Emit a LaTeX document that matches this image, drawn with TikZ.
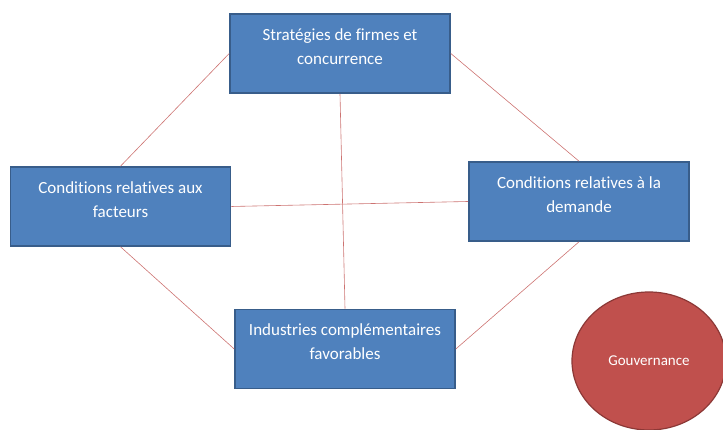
\documentclass[tikz,border=0pt]{standalone}
\usepackage{fontspec}
\setmainfont[Ligatures={NoCommon}]{Carlito}
\usetikzlibrary{shapes.geometric}
\definecolor{boxfill}{HTML}{4F81BD}
\definecolor{boxline}{HTML}{385D8A}
\definecolor{linkred}{HTML}{C0504D}
\definecolor{ellfill}{HTML}{C0504D}
\definecolor{ellline}{HTML}{8C3836}
\begin{document}
\begin{tikzpicture}[x=1pt,y=1pt,
  blockbox/.style={draw=boxline, line width=1.6pt, fill=boxfill, text=white,
    minimum width=220pt, minimum height=79pt, align=center, inner sep=0pt,
    font=\fontsize{17}{24}\selectfont},
  link/.style={draw=linkred!80, line width=0.6pt}]
\useasboundingbox (0,0) rectangle (723,430);
\clip (0,0) rectangle (723,430);
\node[blockbox] (top) at (340,376.5) {Stratégies de firmes et\\concurrence\\[-10pt]\mbox{}};
\node[blockbox] (left) at (120.5,223.5) {Conditions relatives aux\\facteurs\\[-10pt]\mbox{}};
\node[blockbox] (right) at (579,228.5) {Conditions relatives à la\\demande\\[-10pt]\mbox{}};
\node[blockbox] (bottom) at (345,81) {Industries complémentaires\\favorables\\[-10pt]\mbox{}};
\node[draw=ellline, line width=1.2pt, fill=ellfill, ellipse, minimum width=154pt,
  minimum height=138pt, text=white, font=\fontsize{15}{17}\selectfont, inner sep=0pt] (gov) at (649,69) {Gouvernance};
\draw[link] (top.west) -- (left.north);
\draw[link] (top.east) -- (right.north);
\draw[link] (left.east) -- (right.west);
\draw[link] (top.south) -- (bottom.north);
\draw[link] (left.south) -- (bottom.west);
\draw[link] (right.south) -- (bottom.east);
\end{tikzpicture}
\end{document}
